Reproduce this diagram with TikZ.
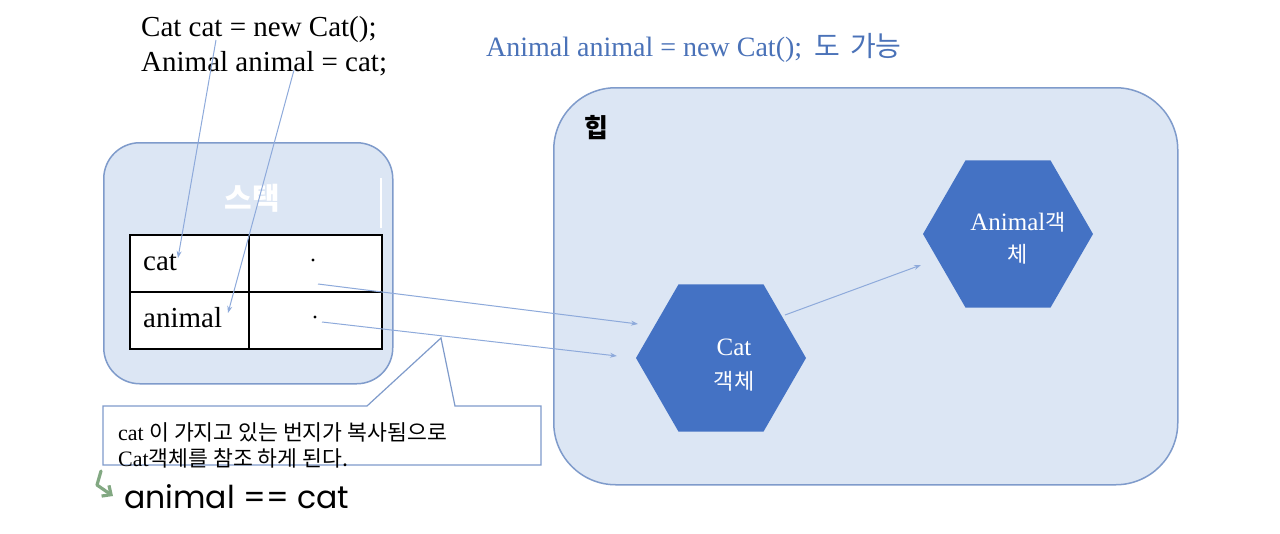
\documentclass[tikz,border=0pt]{standalone}
\usepackage{fontspec}
\setmainfont{Liberation Serif}
\newfontfamily\kr{Noto Sans CJK KR}
\newfontfamily\hand{Poppins}
\usetikzlibrary{shapes.geometric,arrows.meta}
\definecolor{boxfill}{HTML}{DCE6F4}
\definecolor{boxline}{HTML}{7F9BCB}
\definecolor{hexfill}{HTML}{4472C4}
\definecolor{arr}{HTML}{8EAADB}
\definecolor{bluetxt}{HTML}{4A72B8}
\definecolor{hookc}{HTML}{82A882}
\tikzset{
  membox/.style={draw=boxline, fill=boxfill, line width=1.5pt, inner sep=0pt, anchor=north west},
  cell/.style={draw=black, fill=white, line width=1.5pt, inner sep=0pt, anchor=north west, minimum height=57pt},
  hexa/.style={regular polygon, regular polygon sides=6, fill=hexfill, draw=none, inner sep=0pt, minimum size=170pt},
  ref/.style={draw=arr, line width=1pt, -{Stealth[length=7pt,width=5pt]}},
  code/.style={anchor=base west, inner sep=0pt, font=\fontsize{29}{33}\selectfont},
  celltxt/.style={anchor=base west, inner sep=0pt, font=\fontsize{29}{30}\selectfont},
  hextxt/.style={anchor=base, inner sep=0pt, text=white},
  note/.style={anchor=base west, inner sep=0pt, font=\fontsize{22}{24}\selectfont},
}
\newcommand{\krnote}{\kr\fontsize{21.6}{24}\selectfont}
\begin{document}
\begin{tikzpicture}[x=1pt,y=-1pt]
\useasboundingbox (0,0) rectangle (1280,533);
\fill[white] (0,0) rectangle (1280,533);

% code text
\node[code] (l1) at (141,36) {Cat cat = new Cat();};
\node[code] (l2) at (141,71) {Animal animal = cat;};
\node[anchor=base west, inner sep=0pt, text=bluetxt, font=\fontsize{28}{30}\selectfont] (alt) at (486,56) {Animal animal = new Cat();\hspace{12pt}{\kr\fontsize{28}{30}\selectfont 도\hspace{4pt} 가능}};

% stack
\node[membox, rounded corners=36pt, minimum width=289pt, minimum height=241pt] (stack) at (103,142) {};
\node[text=white, inner sep=0pt, font=\kr\bfseries\fontsize{30}{32}\selectfont] (stacklbl) at (252,198) {스택};
\coordinate (wl1) at (381,178);
\coordinate (wl2) at (381,228);
\draw[white, line width=1.5pt] (wl1) -- (wl2);

% table
\node[cell, minimum width=119pt] (c11) at (129,234) {};
\node[cell, minimum width=133pt] (c12) at (248,234) {};
\node[cell, minimum width=119pt] (c21) at (129,291) {};
\node[cell, minimum width=133pt] (c22) at (248,291) {};
\node[celltxt] (tcat) at (143,270) {cat};
\node[celltxt] (tanimal) at (143,327) {animal};
\fill (313,260) circle (1.6pt);
\fill (315,317) circle (1.6pt);

% heap
\node[membox, rounded corners=62pt, minimum width=624pt, minimum height=397pt] (heap) at (553,87) {};
\node[inner sep=0pt, font=\kr\bfseries\fontsize{26}{28}\selectfont] (heaplbl) at (596,128) {힙};

% hexagons
\node[hexa] (cathex) at (721,358) {};
\node[hextxt, font=\fontsize{25}{28}\selectfont] (cat1) at (734,355) {Cat};
\node[hextxt, font=\kr\fontsize{22}{26}\selectfont] (cat2) at (734,389) {객체};
\node[hexa] (anihex) at (1008,234) {};
\node[hextxt, font=\fontsize{25}{28}\selectfont] (ani1) at (1018,230) {Animal{\kr\fontsize{22}{26}\selectfont 객}};
\node[hextxt, font=\kr\fontsize{22}{26}\selectfont] (ani2) at (1018,262) {체};

% references
\coordinate (d1) at (318,284);
\coordinate (d2) at (322,322);
\coordinate (h1) at (638,324);
\coordinate (h2) at (617,356);
\draw[ref] (d1) -- (h1);
\draw[ref] (d2) -- (h2);
\coordinate (cx) at (785,315);
\coordinate (ax) at (921,265);
\draw[ref] (cx) -- (ax);
\coordinate (s1) at (216,40);
\coordinate (e1) at (178,258);
\coordinate (s2) at (294,70);
\coordinate (e2) at (228,313);
\draw[ref] (s1) -- (e1);
\draw[ref] (s2) -- (e2);

% callout
\draw[draw=boxline, fill=white, line width=1.2pt] (103,406) -- (367,406) -- (441,338) -- (455,406) -- (541,406) -- (541,465) -- (103,465) -- cycle;
\node[note] (n1) at (118,440) {cat {\krnote 이 가지고 있는 번지가 복사됨으로}};
\node[note] (n2) at (118,466) {Cat{\krnote 객체를 참조 하게 된다.}};

% handwritten note
\coordinate (k1) at (101,471);
\coordinate (k2) at (97,485);
\coordinate (k3) at (113,496);
\draw[hookc, line width=3.2pt, line cap=round, line join=round, -{Straight Barb[length=7pt,width=13pt]}] (k1) -- (k2) -- (k3);
\node[anchor=base west, inner sep=0pt, font=\hand\fontsize{31.5}{34}\selectfont] (eq) at (124,508) {animal == cat};
\end{tikzpicture}
\end{document}
